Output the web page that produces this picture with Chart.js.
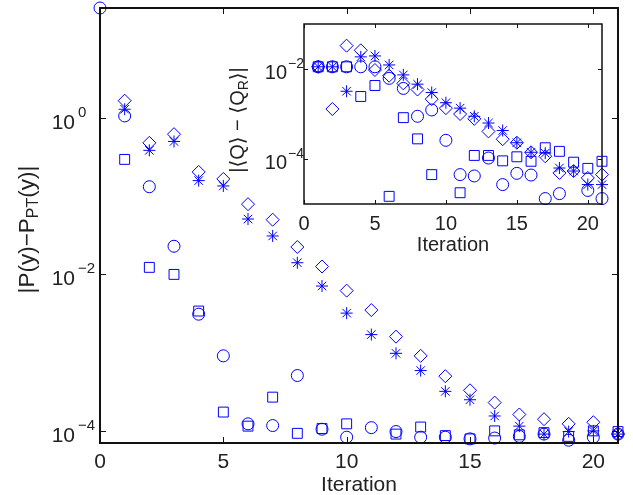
<!DOCTYPE html>
<html>
<head>
<meta charset="utf-8">
<script src="https://cdn.jsdelivr.net/npm/chart.js@4.4.1/dist/chart.umd.min.js"></script>
<style>
  html, body { margin: 0; padding: 0; background: #fff; }
  #wrap { position: relative; width: 633px; height: 495px; }
  #wrap canvas { position: absolute; left: 0; top: 0; }
</style>
</head>
<body>
<div id="wrap">
  <canvas id="main" width="633" height="495"></canvas>
  <canvas id="inset" width="633" height="495"></canvas>
</div>
<script>
// Iteration numbers shared by both plots
const iterations = [0, 1, 2, 3, 4, 5, 6, 7, 8, 9, 10, 11, 12, 13, 14, 15, 16, 17, 18, 19, 20, 21];

// Main plot: |P(y) - P_PT(y)|
const mainCircle = [25.4, 1.06, 0.132, 0.0229, 0.0031, 9.1e-4, 1.23e-4, 1.17e-4, 5.1e-4, 1.05e-4, 8.3e-5,
    1.10e-4, 9.8e-5, 8.3e-5, 8.3e-5, 7.9e-5, 8.1e-5, 8.5e-5, 9.1e-5, 7.6e-5, 8.3e-5, 9.1e-5];
const mainSquare = [null, 0.295, 0.0123, 0.0100, 0.0034, 1.74e-4, 1.15e-4, 2.7e-4, 9.3e-5, 1.07e-4, 1.23e-4,
    null, 9.1e-5, 1.12e-4, 8.7e-5, 7.9e-5, 1.0e-4, 8.9e-5, 9.5e-5, 8.5e-5, 1.0e-4, 9.8e-5];
const mainStar = [null, 1.29, 0.385, 0.50, 0.158, 0.135, 0.051, 0.031, 0.0141, 0.0071, 0.0032,
    0.0017, 9.8e-4, 5.9e-4, 3.2e-4, 2.5e-4, 1.55e-4, 1.15e-4, 9.1e-5, 9.8e-5, 1.0e-4, 9.1e-5];
const mainDiamond = [null, 1.66, 0.48, 0.62, 0.204, 0.166, 0.079, 0.050, 0.0224, 0.0126, 0.0062,
    0.0035, 0.0016, 9.1e-4, 5.0e-4, 3.3e-4, 2.3e-4, 1.62e-4, 1.41e-4, 1.23e-4, 1.29e-4, 9.1e-5];

// Inset: |<Q> - <Q_R>|
const insetCircle = [null, 0.0112, 0.0112, 0.0112, 0.0112, 0.0112, 0.0062, 0.0037, 8.9e-4, 0.00123, 2.6e-4,
    4.5e-5, 4.2e-5, 1.05e-4, 2.7e-5, 4.8e-5, 4.4e-5, 1.32e-5, 1.7e-5, null, 2.0e-5, 1.32e-5];
const insetSquare = [null, 0.0112, 0.0112, 0.0112, 0.00245, 0.0043, 1.48e-5, 8.3e-4, 2.8e-4, 4.5e-5, null,
    1.78e-5, 1.2e-4, 1.2e-4, 9.1e-5, 1.12e-4, 8.9e-5, 1.78e-4, 1.48e-4, 8.5e-5, 6.2e-5, 8.9e-5];
const insetStar = [null, 0.0112, 0.0112, 0.0032, 0.0186, 0.0195, 0.0123, 0.0074, 0.0046, 0.0030, 0.00178,
    0.00135, 8.9e-4, 6.3e-4, 4.3e-4, 2.3e-4, 1.41e-4, 1.35e-4, 6.3e-5, 5.4e-5, 2.7e-5, 2.7e-5];
const insetDiamond = [null, 0.0112, 0.00129, 0.033, 0.026, 0.0095, 0.0071, 0.0048, 0.0035, 0.00214, 0.00135,
    0.0010, 7.8e-4, 4.1e-4, 2.75e-4, 2.3e-4, 1.41e-4, 1.15e-4, 4.9e-5, 5.4e-5, 3.8e-5, 4.5e-5];

// Axis ranges and tick values
const xTicks = [0, 5, 10, 15, 20];
const mainYTicks = [1e-4, 1e-2, 1];
const mainYExps = ['\u22124', '\u22122', '0'];
const insetYTicks = [1e-4, 1e-2];
const insetYExps = ['\u22124', '\u22122'];

const FONT = '"Liberation Sans", Arial, Helvetica, "DejaVu Sans", sans-serif';
const BLUE = '#0000ff';
const TEXT = '#222';

function makeSets(circle, square, star, diamond) {
    const pts = vals => iterations
        .map((x, i) => ({ x: x, y: vals[i] }))
        .filter(p => p.y !== null);
    const base = { borderColor: BLUE, backgroundColor: 'rgba(0,0,0,0)', borderWidth: 1, clip: false, showLine: false };
    return [
        Object.assign({ data: pts(square), pointStyle: 'rect', pointRadius: 7 }, base),
        Object.assign({ data: pts(circle), pointStyle: 'circle', pointRadius: 6 }, base),
        Object.assign({ data: pts(diamond), pointStyle: 'rectRot', pointRadius: 6.5 }, base),
        Object.assign({ data: pts(star), pointStyle: 'star', pointRadius: 6 }, base)
    ];
}

// draw a run of text pieces (for superscripts / subscripts)
function drawParts(ctx, parts, x, y, align) {
    let total = 0;
    parts.forEach(p => {
        ctx.font = p.size + 'px ' + FONT;
        p.w = ctx.measureText(p.text).width;
        total += p.w;
    });
    let cx = x;
    if (align === 'center') cx = x - total / 2;
    else if (align === 'right') cx = x - total;
    ctx.textAlign = 'left';
    parts.forEach(p => {
        ctx.font = p.size + 'px ' + FONT;
        ctx.fillText(p.text, cx, y + (p.dy || 0));
        cx += p.w;
    });
}

function axesPlugin(cfg) {
    return {
        id: 'matlabAxes',
        beforeDatasetsDraw(chart) {
            const a = chart.chartArea;
            const ctx = chart.ctx;
            ctx.save();
            ctx.fillStyle = '#fff';
            ctx.fillRect(a.left, a.top, a.right - a.left, a.bottom - a.top);
            ctx.restore();
        },
        afterDraw(chart) {
            const a = chart.chartArea;
            const ctx = chart.ctx;
            const xs = chart.scales.x, ys = chart.scales.y;
            ctx.save();
            ctx.strokeStyle = '#111';
            ctx.lineWidth = cfg.lineWidth;
            ctx.strokeRect(a.left, a.top, a.right - a.left, a.bottom - a.top);

            ctx.lineWidth = 1;
            ctx.beginPath();
            xTicks.forEach(v => {
                const px = Math.round(xs.getPixelForValue(v)) + 0.5;
                ctx.moveTo(px, a.bottom); ctx.lineTo(px, a.bottom - cfg.tickLen);
                ctx.moveTo(px, a.top); ctx.lineTo(px, a.top + cfg.tickLen);
            });
            cfg.yTicks.forEach(v => {
                const py = Math.round(ys.getPixelForValue(v)) + 0.5;
                ctx.moveTo(a.left, py); ctx.lineTo(a.left + cfg.tickLen, py);
                ctx.moveTo(a.right, py); ctx.lineTo(a.right - cfg.tickLen, py);
            });
            ctx.stroke();

            ctx.fillStyle = TEXT;
            ctx.textBaseline = 'alphabetic';
            // x tick labels
            ctx.font = cfg.tickSize + 'px ' + FONT;
            ctx.textAlign = 'center';
            xTicks.forEach(v => {
                ctx.fillText(String(v), xs.getPixelForValue(v), a.bottom + cfg.xLabelDy);
            });
            // y tick labels, 10 with exponent
            cfg.yTicks.forEach((v, i) => {
                const py = ys.getPixelForValue(v);
                drawParts(ctx, [{ text: '10', size: cfg.tickSize }], a.left - cfg.tenGap, py + cfg.tenDy, 'right');
                drawParts(ctx, [{ text: cfg.yExps[i], size: cfg.expSize }], a.left - cfg.expGap, py + cfg.expDy, 'left');
            });
            // x title
            drawParts(ctx, [{ text: 'Iteration', size: cfg.titleSize }], (a.left + a.right) / 2, a.bottom + cfg.xTitleDy, 'center');
            // y title (rotated)
            ctx.translate(a.left - cfg.yTitleGap, (a.top + a.bottom) / 2 + cfg.yTitleShift);
            ctx.rotate(-Math.PI / 2);
            ctx.textBaseline = 'middle';
            drawParts(ctx, cfg.yTitle, 0, 0, 'center');
            ctx.restore();
        }
    };
}

function makeChart(id, sets, yMin, yMax, padding, cfg) {
    return new Chart(document.getElementById(id), {
        type: 'scatter',
        data: { datasets: sets },
        options: {
            responsive: false,
            animation: false,
            layout: { padding: padding },
            plugins: { legend: { display: false }, tooltip: { enabled: false } },
            scales: {
                x: { type: 'linear', min: 0, max: 21, display: false },
                y: { type: 'logarithmic', min: yMin, max: yMax, display: false }
            }
        },
        plugins: [axesPlugin(cfg)]
    });
}

makeChart('main', makeSets(mainCircle, mainSquare, mainStar, mainDiamond),
    7.46e-5, 25.4,
    { left: 100, right: 15, top: 7, bottom: 52 },
    {
        lineWidth: 2, tickLen: 6, tickSize: 21, expSize: 15, titleSize: 21,
        xLabelDy: 25, xTitleDy: 48,
        tenGap: 25, tenDy: 11, expGap: 22, expDy: -1,
        yTicks: mainYTicks, yExps: mainYExps,
        yTitleGap: 72, yTitleShift: 4,
        yTitle: [
            { text: '|P(y)\u2212P', size: 22.5 },
            { text: 'PT', size: 16, dy: 6 },
            { text: '(y)|', size: 22.5 }
        ]
    });

makeChart('inset', makeSets(insetCircle, insetSquare, insetStar, insetDiamond),
    1e-5, 1e-1,
    { left: 304, right: 31, top: 24, bottom: 291 },
    {
        lineWidth: 1.5, tickLen: 4, tickSize: 20, expSize: 14, titleSize: 20,
        xLabelDy: 26, xTitleDy: 47,
        tenGap: 17, tenDy: 10, expGap: 16, expDy: -1,
        yTicks: insetYTicks, yExps: insetYExps,
        yTitleGap: 66, yTitleShift: 6,
        yTitle: [
            { text: '|\u27E8Q\u27E9 \u2212 \u27E8Q', size: 20 },
            { text: 'R', size: 14, dy: 6 },
            { text: '\u27E9|', size: 20 }
        ]
    });
</script>
</body>
</html>
